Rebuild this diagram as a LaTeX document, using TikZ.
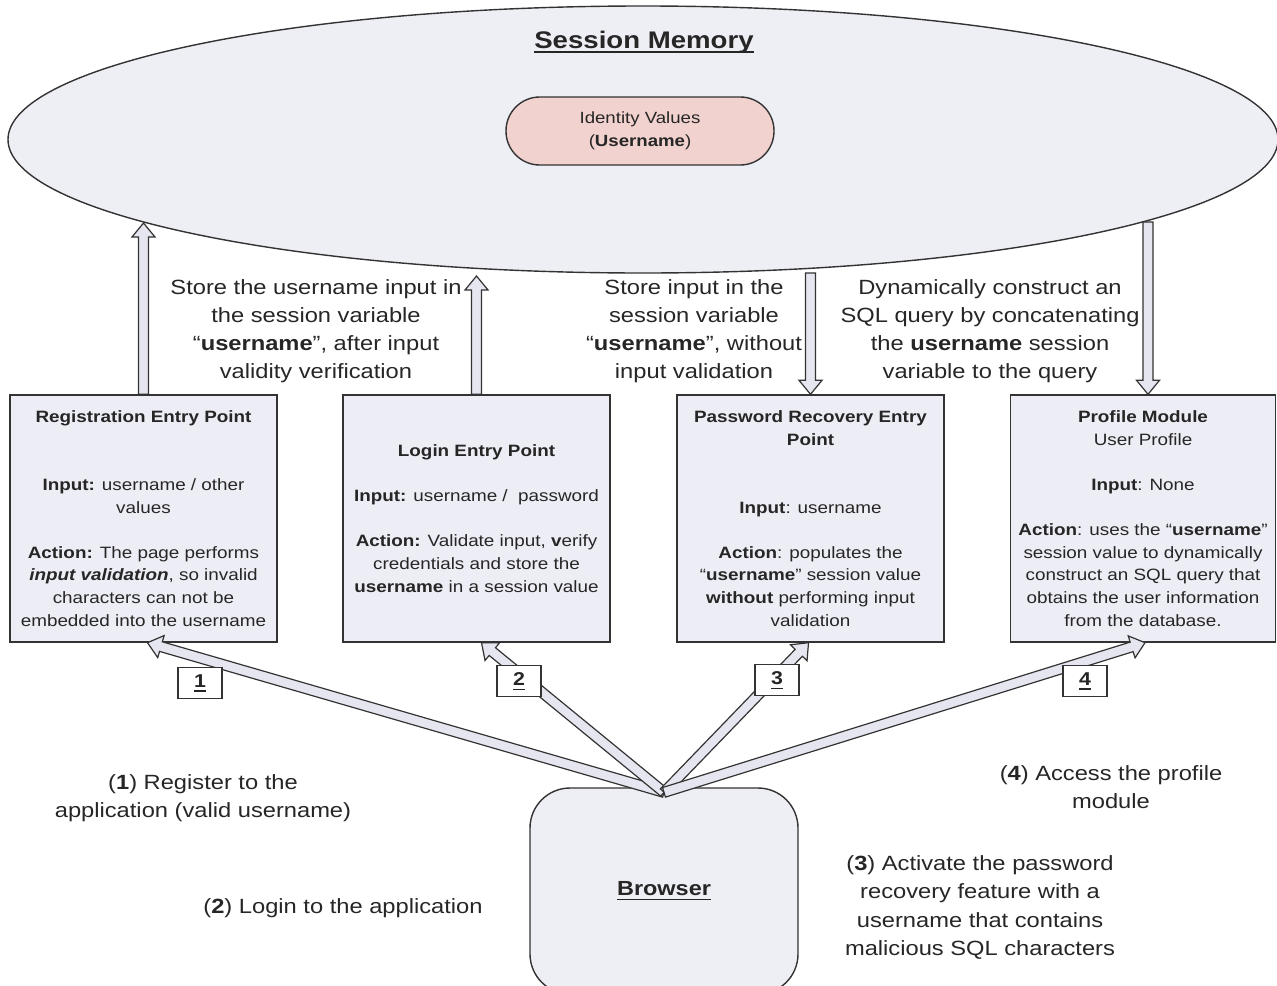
\documentclass[tikz,border=0pt]{standalone}
\usepackage{fontspec}
\setmainfont{Liberation Sans}[FakeStretch=1.15]
\usetikzlibrary{calc,shapes.geometric}

\definecolor{memfill}{HTML}{EEEEF5}
\definecolor{boxfill}{HTML}{EDEDF5}
\definecolor{pillfill}{HTML}{F2D2CE}
\definecolor{arrowfill}{HTML}{E6E6F0}
\definecolor{ink}{HTML}{262626}
\definecolor{edge}{HTML}{333333}

% underline drawn as a rule of a chosen thickness
\newcommand\ulined[2][0.6pt]{\setbox0=\hbox{#2}\leavevmode\rlap{\rule[-2.2pt]{\wd0}{#1}}\box0}

% block ("hollow") arrow from #1 to #2
\newcommand\hashaft{2.5pt}
\newcommand\hahead{5.75pt}
\newcommand\halen{7pt}
\newcommand\hollowarrow[2]{%
  \coordinate (ha-s) at (#1);
  \coordinate (ha-t) at (#2);
  \coordinate (ha-n) at ($(ha-t)!\halen!(ha-s)$);
  \draw[hollow]
    ($(ha-s)!\hashaft!90:(ha-t)$) --
    ($(ha-n)!\hashaft!90:(ha-t)$) --
    ($(ha-n)!\hahead!90:(ha-t)$) --
    (ha-t) --
    ($(ha-n)!\hahead!-90:(ha-t)$) --
    ($(ha-n)!\hashaft!-90:(ha-t)$) --
    ($(ha-s)!\hashaft!-90:(ha-t)$) -- cycle;
}

\begin{document}
\begin{tikzpicture}[x=0.5pt,y=-0.5pt,
  every node/.style={text=ink},
  entry/.style={draw=edge, line width=0.7pt, fill=boxfill, minimum width=133.5pt,
    minimum height=123.5pt, inner sep=0pt, align=center,
    font=\fontsize{8.2}{11.3}\selectfont},
  caption/.style={align=center, inner sep=0pt, font=\fontsize{10.3}{14.1}\selectfont},
  hollow/.style={draw=edge, line width=0.6pt, fill=arrowfill, line join=miter},
  stepno/.style={draw=edge, line width=0.7pt, fill=white, minimum width=22pt,
    minimum height=15.5pt, inner sep=0pt, font=\fontsize{9.3}{11}\selectfont\bfseries}
]
\useasboundingbox (0,0) rectangle (1277,985);
\clip (0,0) rectangle (1277,985);

% session memory
\node[ellipse, draw=edge, line width=0.7pt, fill=memfill, minimum width=635pt,
  minimum height=133.5pt, inner sep=0pt] (mem) at (643,139.5) {};
\node[font=\fontsize{12}{14}\selectfont\bfseries] (title) at (644,42) {\ulined[0.9pt]{Session Memory}};
\node[draw=edge, line width=0.7pt, fill=pillfill, rounded corners=16.9pt, minimum width=134pt,
  minimum height=34pt, inner sep=0pt, align=center,
  font=\fontsize{8.1}{11.5}\selectfont] (ident) at (640,131) {Identity Values\\(\textbf{Username})};

% entry points
\node[entry] (reg) at (143.5,518.5) {\textbf{Registration Entry Point}\\[22.6pt]\textbf{Input:} username / other\\values\\[11.3pt]\textbf{Action:} The page performs\\\textbf{\textit{input validation}}, so invalid\\characters can not be\\embedded into the username};
\node[entry] (login) at (476.5,518.5) {\textbf{Login Entry Point}\\[11.3pt]\textbf{Input:} username /\ \ password\\[11.3pt]\textbf{Action:} Validate input, \textbf{v}erify\\credentials and store the\\\textbf{username} in a session value};
\node[entry] (recov) at (810.5,518.5) {\textbf{Password Recovery Entry}\\\textbf{Point}\\[22.6pt]\textbf{Input}: username\\[11.3pt]\textbf{Action}: populates the\\“\textbf{username}” session value\\\textbf{without} performing input\\validation};
\node[entry, minimum width=132.5pt] (prof) at (1143,518.5) {\textbf{Profile Module}\\User Profile\\[11.3pt]\textbf{Input}: None\\[11.3pt]\textbf{Action}: uses the “\textbf{username}”\\session value to dynamically\\construct an SQL query that\\obtains the user information\\from the database.};

% browser
\node[draw=edge, line width=0.7pt, fill=memfill, rounded corners=20pt, minimum width=134pt,
  minimum height=103pt, inner sep=0pt, font=\fontsize{10.2}{12}\selectfont\bfseries] (browser) at (664,891) {\ulined{Browser}};

% captions
\node[caption] (c1) at (316,331) {Store the username input in\\the session variable\\“\textbf{username}”, after input\\validity verification};
\node[caption] (c2) at (694,331) {Store input in the\\session variable\\“\textbf{username}”, without\\input validation};
\node[caption] (c3) at (990,331) {Dynamically construct an\\SQL query by concatenating\\the \textbf{username} session\\variable to the query};
\node[caption] (c4) at (203,798) {(\textbf{1}) Register to the\\application (valid username)};
\node[caption] (c5) at (343,908) {(\textbf{2}) Login to the application};
\node[caption] (c6) at (1111,787.5) {(\textbf{4}) Access the profile\\module};
\node[caption] (c7) at (980,907.5) {(\textbf{3}) Activate the password\\recovery feature with a\\username that contains\\malicious SQL characters};

% arrows between entry points and session memory
\coordinate (m1) at (143.5,223);
\coordinate (m2) at (476.5,276);
\coordinate (m3) at (810.5,273);
\coordinate (m4) at (1148,222);
\hollowarrow{reg.north}{m1}
\hollowarrow{login.north}{m2}
\hollowarrow{m3}{recov.north}
\hollowarrow{m4}{$(prof.north)+(5,0)$}

% arrows from the browser to the entry points
\coordinate (b0) at ($(browser.north)+(0,5)$);
\hollowarrow{b0}{$(reg.south)+(4,0)$}
\hollowarrow{b0}{$(login.south)+(5,0)$}
\hollowarrow{b0}{$(recov.south)+(-2,0)$}
\hollowarrow{b0}{$(prof.south)+(2,0)$}

% step numbers
\node[stepno] (n1) at (200,683) {\ulined{1}};
\node[stepno] (n2) at (519,681) {\ulined{2}};
\node[stepno] (n3) at (777,680) {\ulined{3}};
\node[stepno] (n4) at (1085,681) {\ulined{4}};
\end{tikzpicture}
\end{document}
